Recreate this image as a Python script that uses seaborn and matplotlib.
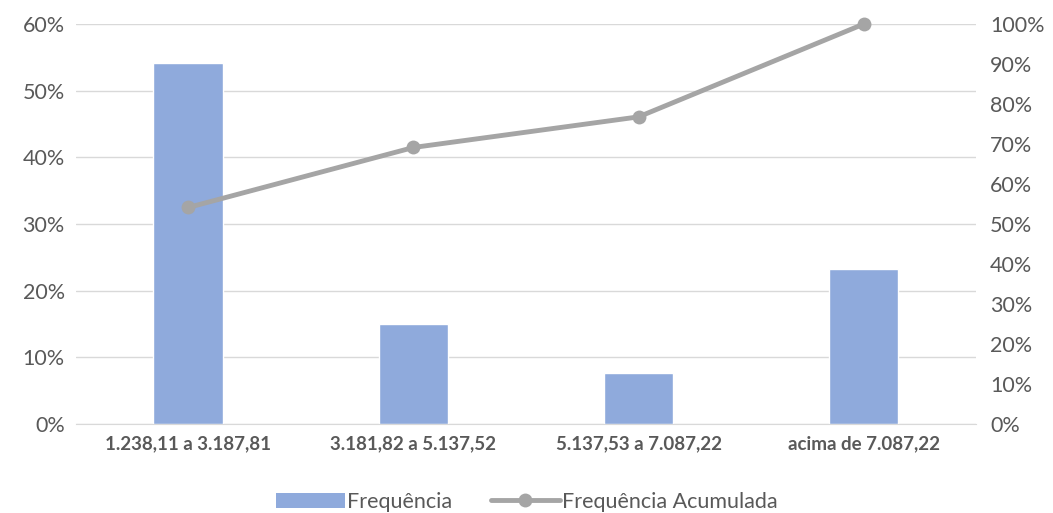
import numpy as np
import pandas as pd
import matplotlib.pyplot as plt
import seaborn as sns
from matplotlib.patches import Patch
from matplotlib.lines import Line2D

categorias = ["1.238,11 a 3.187,81", "3.181,82 a 5.137,52", "5.137,53 a 7.087,22", "acima de 7.087,22"]
frequencia = [54.15, 15.0, 7.65, 23.25]
freq_acumulada = [54.15, 69.15, 76.8, 100.0]

df = pd.DataFrame({"Faixa": categorias, "Frequencia": frequencia, "Acumulada": freq_acumulada})

sns.set_style("white")
plt.rcParams['font.family'] = ['Lato', 'DejaVu Sans']

cor_texto = "#595959"
fig = plt.figure(figsize=(10.53, 5.13), dpi=100)
ax = fig.add_axes([0.072, 0.1735, 0.855, 0.7795])

sns.barplot(data=df, x="Faixa", y="Frequencia", color="#8FAADC", saturation=1, width=0.31, ax=ax)
ax.set_ylim(0, 60)
ax.set_yticks(range(0, 61, 10))
ax.set_yticklabels([f"{v}%" for v in range(0, 61, 10)], fontsize=15.5, color=cor_texto)
ax.set_xlim(-0.5, 3.5)
ax.set_xlabel("")
ax.set_ylabel("")
ax.yaxis.grid(True, color="#D9D9D9", linewidth=1)
ax.set_axisbelow(True)
for s in ["top", "left", "right"]:
    ax.spines[s].set_visible(False)
ax.spines["bottom"].set_color("#D9D9D9")
ax.tick_params(axis="both", length=0, pad=8)
for lbl in ax.get_xticklabels():
    lbl.set_fontweight("bold")
    lbl.set_fontsize(13.5)
    lbl.set_color(cor_texto)

ax2 = ax.twinx()
sns.lineplot(x=np.arange(len(categorias)), y=freq_acumulada, color="#A5A5A5", linewidth=3.5,
             marker="o", markersize=10, markeredgewidth=0, ax=ax2)
for ln in ax2.lines:
    ln.set_clip_on(False)
ax2.set_ylim(0, 100)
ax2.set_yticks(range(0, 101, 10))
ax2.set_yticklabels([f"{v}%" for v in range(0, 101, 10)], fontsize=15.5, color=cor_texto)
ax2.tick_params(axis="y", length=0, pad=10)
for s in ["top", "left", "right", "bottom"]:
    ax2.spines[s].set_visible(False)
ax2.set_xlim(-0.5, 3.5)

handles = [Patch(facecolor="#8FAADC", edgecolor="none"),
           Line2D([0], [0], color="#A5A5A5", linewidth=3.5, marker="o", markersize=10, markeredgewidth=0)]
fig.legend(handles, ["Frequência", "Frequência Acumulada"], loc="lower center", ncol=2,
           bbox_to_anchor=(0.5, -0.035), frameon=False, fontsize=15.5, labelcolor=cor_texto,
           handlelength=3.2, handletextpad=0.1, columnspacing=1.8)

fig.savefig("out.png", dpi=100)
